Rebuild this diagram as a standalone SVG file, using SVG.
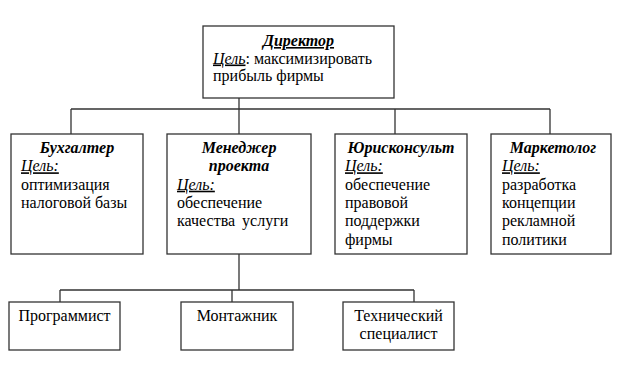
<svg xmlns="http://www.w3.org/2000/svg" width="620" height="373" viewBox="0 0 620 373" font-family="'Liberation Serif', 'Times New Roman', serif" font-size="16">
<style>
.box{fill:#fff;stroke:#333;stroke-width:1.3}
.ln{stroke:#333;stroke-width:1.3;fill:none}
text{font-family:'Liberation Serif','Times New Roman',serif;font-size:16px;fill:#000}
.t{font-weight:bold;font-style:italic;text-anchor:middle}
.u{text-decoration:underline}
.i{font-style:italic}
.c{text-anchor:middle}
</style>
<rect width="620" height="373" fill="#fff"/>
<g id="connectors">
<path class="ln" d="M239 98V109M71 109H550M71 109V134M239 109V134M395 109V134M550 109V134"/>
<path class="ln" d="M239 254V290M60 290H414M60 290V302M232 290V302M414 290V302"/>
</g>
<g id="director">
<rect class="box" x="203" y="26" width="191" height="72"/>
<text class="t u" x="298.5" y="46">Директор</text>
<text x="213" y="63.5"><tspan class="i u">Цель</tspan>: максимизировать</text>
<text x="213" y="81">прибыль фирмы</text>
</g>
<g id="buh">
<rect class="box" x="11" y="134" width="132" height="120"/>
<text class="t" x="77" y="153">Бухгалтер</text>
<text class="i u" x="21" y="171.3">Цель:</text>
<text x="21" y="189.7">оптимизация</text>
<text x="21" y="208">налоговой базы</text>
</g>
<g id="manager">
<rect class="box" x="167" y="134" width="144" height="120"/>
<text class="t" x="239" y="153">Менеджер</text>
<text class="t" x="239" y="171.3">проекта</text>
<text class="i u" x="177" y="189.7">Цель:</text>
<text x="177" y="208">обеспечение</text>
<text x="177" y="226.3" word-spacing="3">качества услуги</text>
</g>
<g id="jurist">
<rect class="box" x="335" y="134" width="132" height="120"/>
<text class="t" x="401" y="153">Юрисконсульт</text>
<text class="i u" x="345" y="171.3">Цель:</text>
<text x="345" y="189.7">обеспечение</text>
<text x="345" y="208">правовой</text>
<text x="345" y="226.3">поддержки</text>
<text x="345" y="244.6">фирмы</text>
</g>
<g id="marketer">
<rect class="box" x="491" y="134" width="120" height="120"/>
<text class="t" x="553" y="153">Маркетолог</text>
<text class="i u" x="502" y="171.3">Цель:</text>
<text x="502" y="189.7">разработка</text>
<text x="502" y="208">концепции</text>
<text x="502" y="226.3">рекламной</text>
<text x="502" y="244.6">политики</text>
</g>
<g id="programmer">
<rect class="box" x="9" y="302" width="111" height="48"/>
<text class="c" x="64.5" y="320.5">Программист</text>
</g>
<g id="montazhnik">
<rect class="box" x="181" y="302" width="112" height="48"/>
<text class="c" x="237" y="320.5">Монтажник</text>
</g>
<g id="tech">
<rect class="box" x="343" y="302" width="111" height="48"/>
<text class="c" x="398.5" y="320.5">Технический</text>
<text class="c" x="398.5" y="338.8">специалист</text>
</g>
</svg>
